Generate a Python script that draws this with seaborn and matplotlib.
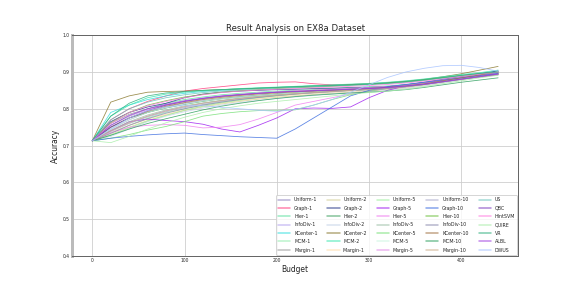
import numpy as np
import pandas as pd
import seaborn as sns
import matplotlib
matplotlib.use("Agg")
import matplotlib.pyplot as plt

budget = list(range(0, 441, 20))

labels = ['Uniform-1', 'Graph-1', 'Hier-1', 'InfoDiv-1', 'KCenter-1', 'MCM-1', 'Margin-1',
          'Uniform-2', 'Graph-2', 'Hier-2', 'InfoDiv-2', 'KCenter-2', 'MCM-2', 'Margin-1 ',
          'Uniform-5', 'Graph-5', 'Hier-5', 'InfoDiv-5', 'KCenter-5', 'MCM-5', 'Margin-5',
          'Uniform-10', 'Graph-10', 'Hier-10', 'InfoDiv-10', 'KCenter-10', 'MCM-10', 'Margin-10',
          'US', 'QBC', 'HintSVM', 'QUIRE', 'VR', 'ALBL', 'DWUS']

colors = ['#8f84c0', '#ff3d7f', '#5fe0a0', '#b4a2f0', '#35dede', '#95eeae', '#9a9a9a',
          '#d4d09a', '#2a3a8a', '#3fa060', '#c4d2e8', '#8a7a30', '#3ae8b0', '#ffdcaa',
          '#9ef09e', '#a020f0', '#f07ef0', '#9cbfa6', '#78e078', '#ccf5e0', '#e08ce8',
          '#aaaacc', '#3f6fe0', '#6cc03c', '#8c8cae', '#a07040', '#2fa060', '#cfae8c',
          '#6cc6be', '#7e3ec0', '#ff7ee0', '#aaeeaa', '#2fb07e', '#a040e0', '#a8c4ff']

uniform_1 = [0.713, 0.745, 0.770, 0.790, 0.805, 0.815, 0.822, 0.828, 0.833, 0.837, 0.840, 0.843, 0.846, 0.848, 0.850, 0.853, 0.856, 0.860, 0.866, 0.874, 0.882, 0.890, 0.898]
graph_1 = [0.713, 0.770, 0.800, 0.820, 0.835, 0.848, 0.855, 0.860, 0.865, 0.870, 0.872, 0.873, 0.868, 0.865, 0.866, 0.868, 0.870, 0.873, 0.878, 0.884, 0.890, 0.895, 0.900]
hier_1 = [0.713, 0.755, 0.780, 0.800, 0.815, 0.825, 0.832, 0.838, 0.842, 0.845, 0.848, 0.850, 0.852, 0.855, 0.858, 0.860, 0.862, 0.866, 0.872, 0.880, 0.887, 0.893, 0.900]
infodiv_1 = [0.713, 0.740, 0.762, 0.780, 0.795, 0.805, 0.815, 0.822, 0.828, 0.833, 0.838, 0.842, 0.845, 0.848, 0.851, 0.853, 0.856, 0.860, 0.867, 0.875, 0.883, 0.890, 0.897]
kcenter_1 = [0.713, 0.790, 0.810, 0.825, 0.835, 0.842, 0.847, 0.850, 0.853, 0.855, 0.857, 0.858, 0.860, 0.862, 0.864, 0.866, 0.869, 0.873, 0.878, 0.884, 0.890, 0.896, 0.902]
mcm_1 = [0.713, 0.735, 0.755, 0.775, 0.790, 0.800, 0.810, 0.818, 0.825, 0.830, 0.835, 0.840, 0.843, 0.846, 0.850, 0.853, 0.856, 0.860, 0.866, 0.874, 0.882, 0.888, 0.895]
margin_1 = [0.713, 0.760, 0.785, 0.800, 0.810, 0.820, 0.827, 0.833, 0.838, 0.842, 0.845, 0.848, 0.850, 0.853, 0.855, 0.857, 0.860, 0.864, 0.870, 0.877, 0.885, 0.892, 0.900]
uniform_2 = [0.713, 0.730, 0.750, 0.768, 0.783, 0.795, 0.805, 0.813, 0.820, 0.826, 0.831, 0.835, 0.839, 0.842, 0.845, 0.848, 0.852, 0.857, 0.864, 0.872, 0.880, 0.888, 0.896]
graph_2 = [0.713, 0.765, 0.790, 0.805, 0.815, 0.830, 0.840, 0.845, 0.848, 0.850, 0.852, 0.853, 0.855, 0.856, 0.857, 0.858, 0.860, 0.865, 0.872, 0.880, 0.888, 0.895, 0.903]
hier_2 = [0.713, 0.750, 0.775, 0.790, 0.802, 0.812, 0.820, 0.827, 0.832, 0.836, 0.840, 0.843, 0.845, 0.848, 0.850, 0.852, 0.855, 0.860, 0.866, 0.873, 0.880, 0.887, 0.894]
infodiv_2 = [0.713, 0.725, 0.745, 0.765, 0.780, 0.792, 0.802, 0.810, 0.817, 0.823, 0.828, 0.832, 0.836, 0.840, 0.843, 0.846, 0.850, 0.855, 0.862, 0.870, 0.878, 0.886, 0.893]
kcenter_2 = [0.713, 0.818, 0.835, 0.845, 0.847, 0.848, 0.850, 0.852, 0.854, 0.856, 0.858, 0.860, 0.862, 0.864, 0.866, 0.868, 0.871, 0.875, 0.880, 0.887, 0.895, 0.905, 0.915]
mcm_2 = [0.713, 0.780, 0.810, 0.830, 0.840, 0.845, 0.849, 0.852, 0.855, 0.857, 0.859, 0.861, 0.863, 0.865, 0.867, 0.869, 0.872, 0.876, 0.881, 0.887, 0.893, 0.898, 0.905]
margin_1b = [0.713, 0.735, 0.755, 0.772, 0.785, 0.797, 0.807, 0.815, 0.822, 0.828, 0.833, 0.838, 0.842, 0.845, 0.848, 0.851, 0.855, 0.860, 0.866, 0.873, 0.881, 0.888, 0.895]
uniform_5 = [0.713, 0.728, 0.748, 0.767, 0.782, 0.796, 0.807, 0.816, 0.823, 0.830, 0.835, 0.840, 0.844, 0.847, 0.850, 0.853, 0.856, 0.860, 0.866, 0.873, 0.880, 0.887, 0.893]
graph_5 = [0.713, 0.740, 0.765, 0.772, 0.768, 0.765, 0.758, 0.745, 0.737, 0.755, 0.775, 0.800, 0.802, 0.801, 0.805, 0.830, 0.850, 0.862, 0.870, 0.877, 0.884, 0.890, 0.897]
hier_5 = [0.713, 0.735, 0.750, 0.755, 0.757, 0.755, 0.748, 0.750, 0.757, 0.772, 0.790, 0.810, 0.820, 0.830, 0.840, 0.848, 0.855, 0.862, 0.868, 0.875, 0.882, 0.888, 0.895]
infodiv_5 = [0.713, 0.742, 0.765, 0.783, 0.797, 0.808, 0.816, 0.823, 0.829, 0.834, 0.838, 0.842, 0.845, 0.848, 0.851, 0.854, 0.857, 0.861, 0.867, 0.874, 0.881, 0.888, 0.895]
kcenter_5 = [0.713, 0.720, 0.730, 0.742, 0.752, 0.765, 0.780, 0.787, 0.792, 0.795, 0.796, 0.797, 0.810, 0.825, 0.838, 0.848, 0.855, 0.862, 0.868, 0.875, 0.882, 0.888, 0.894]
mcm_5 = [0.713, 0.745, 0.770, 0.790, 0.803, 0.813, 0.821, 0.827, 0.832, 0.836, 0.840, 0.843, 0.846, 0.849, 0.852, 0.855, 0.858, 0.862, 0.868, 0.875, 0.882, 0.889, 0.896]
margin_5 = [0.713, 0.755, 0.780, 0.798, 0.810, 0.820, 0.828, 0.834, 0.839, 0.843, 0.846, 0.849, 0.851, 0.853, 0.856, 0.858, 0.861, 0.865, 0.871, 0.878, 0.885, 0.892, 0.898]
uniform_10 = [0.713, 0.738, 0.760, 0.778, 0.792, 0.803, 0.812, 0.820, 0.826, 0.831, 0.836, 0.840, 0.843, 0.846, 0.849, 0.852, 0.855, 0.860, 0.866, 0.873, 0.880, 0.887, 0.894]
graph_10 = [0.713, 0.720, 0.725, 0.729, 0.732, 0.734, 0.730, 0.727, 0.724, 0.722, 0.720, 0.745, 0.775, 0.805, 0.835, 0.850, 0.860, 0.866, 0.872, 0.878, 0.884, 0.890, 0.896]
hier_10 = [0.713, 0.762, 0.790, 0.810, 0.822, 0.832, 0.839, 0.845, 0.849, 0.852, 0.855, 0.857, 0.859, 0.861, 0.864, 0.866, 0.869, 0.873, 0.878, 0.884, 0.890, 0.895, 0.900]
infodiv_10 = [0.713, 0.733, 0.755, 0.773, 0.788, 0.800, 0.810, 0.818, 0.825, 0.831, 0.836, 0.840, 0.844, 0.847, 0.850, 0.852, 0.855, 0.860, 0.866, 0.873, 0.880, 0.886, 0.892]
kcenter_10 = [0.713, 0.750, 0.775, 0.793, 0.807, 0.817, 0.825, 0.831, 0.836, 0.840, 0.843, 0.846, 0.848, 0.850, 0.852, 0.855, 0.858, 0.862, 0.868, 0.876, 0.884, 0.892, 0.900]
mcm_10 = [0.713, 0.728, 0.745, 0.760, 0.773, 0.785, 0.797, 0.807, 0.815, 0.822, 0.828, 0.833, 0.837, 0.840, 0.843, 0.845, 0.848, 0.852, 0.858, 0.865, 0.872, 0.878, 0.884]
margin_10 = [0.713, 0.740, 0.762, 0.780, 0.794, 0.806, 0.815, 0.822, 0.828, 0.833, 0.837, 0.841, 0.844, 0.847, 0.850, 0.853, 0.856, 0.860, 0.866, 0.873, 0.880, 0.887, 0.893]
us = [0.713, 0.770, 0.800, 0.818, 0.830, 0.838, 0.844, 0.848, 0.851, 0.854, 0.856, 0.858, 0.860, 0.862, 0.864, 0.866, 0.868, 0.872, 0.877, 0.883, 0.889, 0.895, 0.900]
qbc = [0.713, 0.750, 0.775, 0.795, 0.810, 0.820, 0.828, 0.834, 0.838, 0.842, 0.845, 0.847, 0.849, 0.851, 0.853, 0.855, 0.858, 0.862, 0.867, 0.874, 0.881, 0.888, 0.895]
hintsvm = [0.713, 0.760, 0.790, 0.808, 0.820, 0.830, 0.838, 0.844, 0.848, 0.851, 0.853, 0.855, 0.857, 0.859, 0.861, 0.863, 0.866, 0.870, 0.875, 0.881, 0.888, 0.894, 0.900]
quire = [0.713, 0.708, 0.725, 0.745, 0.762, 0.777, 0.790, 0.800, 0.808, 0.815, 0.820, 0.825, 0.830, 0.835, 0.840, 0.844, 0.848, 0.853, 0.860, 0.868, 0.876, 0.884, 0.891]
vr = [0.713, 0.780, 0.815, 0.835, 0.843, 0.847, 0.850, 0.852, 0.854, 0.856, 0.858, 0.860, 0.862, 0.863, 0.865, 0.867, 0.870, 0.874, 0.879, 0.885, 0.891, 0.896, 0.900]
albl = [0.713, 0.755, 0.782, 0.800, 0.812, 0.822, 0.829, 0.835, 0.839, 0.842, 0.845, 0.847, 0.849, 0.851, 0.853, 0.855, 0.857, 0.861, 0.866, 0.873, 0.880, 0.887, 0.894]
dwus = [0.713, 0.745, 0.775, 0.795, 0.805, 0.810, 0.808, 0.804, 0.800, 0.796, 0.793, 0.798, 0.810, 0.825, 0.845, 0.865, 0.885, 0.900, 0.910, 0.917, 0.918, 0.912, 0.902]

series = [uniform_1, graph_1, hier_1, infodiv_1, kcenter_1, mcm_1, margin_1,
          uniform_2, graph_2, hier_2, infodiv_2, kcenter_2, mcm_2, margin_1b,
          uniform_5, graph_5, hier_5, infodiv_5, kcenter_5, mcm_5, margin_5,
          uniform_10, graph_10, hier_10, infodiv_10, kcenter_10, mcm_10, margin_10,
          us, qbc, hintsvm, quire, vr, albl, dwus]

rows = []
for name, vals in zip(labels, series):
    for b, v in zip(budget, vals):
        rows.append({'Budget': b, 'Accuracy': v, 'Method': name})
df = pd.DataFrame(rows)

sns.set_style('whitegrid', {'grid.color': '#cccccc', 'axes.edgecolor': '#666666'})
fig, ax = plt.subplots(figsize=(8, 4), dpi=72)
sns.lineplot(data=df, x='Budget', y='Accuracy', hue='Method', hue_order=labels,
             palette=dict(zip(labels, colors)), linewidth=0.8, alpha=0.85, ax=ax)

ax.set_xlim(-22, 462)
ax.set_ylim(0.4, 1.0)
ax.set_xticks([0, 100, 200, 300, 400])
ax.set_yticks([0.4, 0.5, 0.6, 0.7, 0.8, 0.9, 1.0])
ax.tick_params(axis='both', labelsize=4.5, length=0, pad=2)
ax.set_title('Result Analysis on EX8a Dataset', fontsize=8.5, pad=4)
ax.set_xlabel('Budget', fontsize=7.5, labelpad=2)
ax.set_ylabel('Accuracy', fontsize=7.5, labelpad=3)
for s in ax.spines.values():
    s.set_linewidth(1.0)
ax.spines['left'].set_color('#bbbbbb')
ax.spines['left'].set_linewidth(3)

handles, lbls = ax.get_legend_handles_labels()
leg = ax.legend(handles, lbls, loc='lower right', ncol=5, fontsize=4.7,
                frameon=True, handlelength=2.6, columnspacing=2.1,
                labelspacing=0.72, borderaxespad=0.25, borderpad=0.5)
for line in leg.get_lines():
    line.set_linewidth(1.6)
    line.set_alpha(0.6)

fig.subplots_adjust(left=0.125, right=0.9, top=0.878, bottom=0.111)
fig.savefig('out.png', dpi=72)
